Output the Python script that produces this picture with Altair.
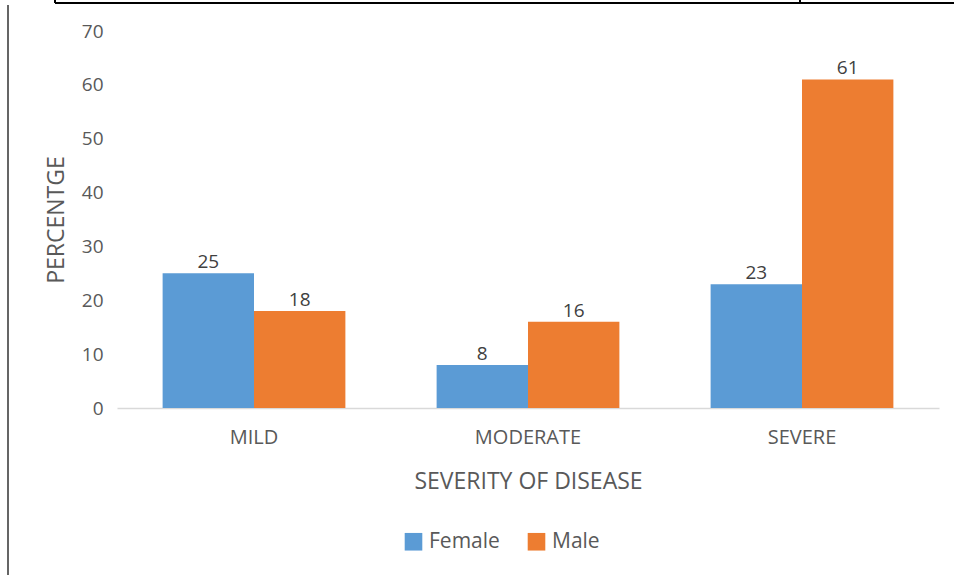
import altair as alt
import pandas as pd

categories = ["MILD", "MODERATE", "SEVERE"]
female = [25, 8, 23]
male = [18, 16, 61]
series = ["Female", "Male"]
colors = ["#5B9BD5", "#ED7D31"]

rows = []
for c, f, m in zip(categories, female, male):
    rows.append({"cat": c, "sex": "Female", "val": f})
    rows.append({"cat": c, "sex": "Male", "val": m})
df = pd.DataFrame(rows)

FONT = "Open Sans"
W, H = 822, 377

x = alt.X("cat:N", sort=categories, title="SEVERITY OF DISEASE",
          scale=alt.Scale(paddingInner=0.333, paddingOuter=0.1665),
          axis=alt.Axis(labelAngle=0))
y = alt.Y("val:Q", title="PERCENTGE",
          scale=alt.Scale(domain=[0, 70]),
          axis=alt.Axis(values=list(range(0, 71, 10))))

base = alt.Chart(df).encode(x=x, y=y, xOffset=alt.XOffset("sex:N", sort=series))

bars = base.mark_bar().encode(
    color=alt.Color("sex:N", sort=series, title=None,
                    scale=alt.Scale(domain=series, range=colors),
                    legend=alt.Legend(orient="none", legendX=286, legendY=500, direction="horizontal",
                                      symbolType="square", symbolSize=310, symbolStrokeWidth=0,
                                      labelFont=FONT, labelFontSize=21, labelColor="#595959",
                                      columnPadding=26, labelOffset=5)),
)
labels = base.mark_text(dy=-5, baseline="alphabetic", fontSize=19, font=FONT,
                        color="#404040").encode(text="val:Q")

border_top = alt.Chart(df).mark_rule(color="black", strokeWidth=2).encode(
    x=alt.value(-62), x2=alt.value(840), y=alt.value(-28))
border_tick = alt.Chart(df).mark_rule(color="black", strokeWidth=2).encode(
    x=alt.value(683), y=alt.value(-32), y2=alt.value(-28))
border_tick2 = alt.Chart(df).mark_rule(color="black", strokeWidth=2).encode(
    x=alt.value(-62), y=alt.value(-32), y2=alt.value(-28))
border_left = alt.Chart(df).mark_rule(color="#666666", strokeWidth=1.5).encode(
    x=alt.value(-109), y=alt.value(-26), y2=alt.value(550))

chart = alt.layer(bars, labels, border_top, border_tick, border_tick2, border_left).properties(
    width=W, height=H,
    background="white",
    autosize=alt.AutoSizeParams(type="none"),
    padding={"left": 117, "top": 31, "right": 15, "bottom": 167},
).configure_view(stroke=None).configure_axis(
    labelColor="#595959", labelFont=FONT, labelFontSize=20,
    titleColor="#595959", titleFont=FONT, titleFontWeight="normal",
    ticks=False, grid=False,
).configure_axisX(
    domainColor="#D9D9D9", domainWidth=1.5, labelPadding=19, titleFontSize=23, titlePadding=23,
).configure_axisY(
    domain=False, labelPadding=14, labelFontSize=19, titleFontSize=23, titlePadding=13,
)

chart.save("out.html", embed_options={"renderer": "svg", "actions": False})
